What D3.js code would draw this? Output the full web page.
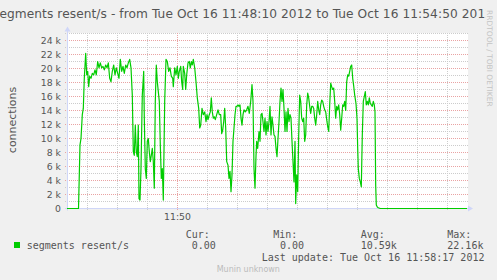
<!DOCTYPE html>
<html>
<head>
<meta charset="utf-8">
<script src="https://cdn.jsdelivr.net/npm/d3@7"></script>
<style>
  body { margin: 0; background: #f0f0f0; }
  svg { display: block; }
</style>
</head>
<body>
<div id="chart"></div>
<script>
// canvas
const width = 497;
const height = 280;
const plot = {left: 67, right: 467, top: 33.5, bottom: 208.5};

// time window of the graph
const startTime = new Date(2012, 9, 16, 11, 48, 10);
const endTime = new Date(2012, 9, 16, 11, 54, 50);

// seconds after 11:48:10
const secs = [
  0, 11.5, 13, 14, 15.3, 16.3, 17.3, 18.7, 19.7, 20.7,
  21.7, 22.7, 24, 25.3, 26.7, 28, 29.3, 30.7, 32, 33.3,
  34.7, 36, 37.3, 38.7, 40, 41.3, 42.7, 44, 45.3, 46.7,
  48, 49.3, 50.7, 52, 53.3, 54.7, 56, 57.3, 58.7, 60,
  61.3, 62.7, 64, 65.3, 66.3, 67.3, 68.3, 69.3, 70.3, 71.3,
  72, 73, 74, 75.3, 76.7, 77.3, 78.3, 79.3, 80.3, 81.3,
  82.3, 83.3, 84.3, 85.3, 86.3, 87.3, 88.3, 89.3, 90.3, 91.3,
  92.3, 93.3, 94.3, 95.3, 96.3, 97.7, 99, 100.3, 101.7, 103,
  104.3, 105.7, 106.3, 107.7, 109, 110.3, 111.3, 112.3, 113.7, 114.7,
  115.7, 116.3, 117.7, 118.7, 119.7, 121, 122.3, 123.3, 124.3, 125.3,
  126.3, 127.7, 129, 130.3, 131.7, 132.7, 133.7, 135, 136.3, 137.7,
  139, 140, 141, 142.3, 143.3, 144.3, 145.3, 146.3, 147.3, 148.3,
  149.7, 151, 152.3, 153.7, 154.7, 155.7, 156.7, 157.7, 158.7, 159.7,
  161, 162, 163, 164, 165, 166, 167, 168, 169, 170,
  171, 172, 173, 174, 175, 176, 177, 178.3, 179.7, 181,
  182.3, 183.7, 185, 186, 187, 188, 189, 189.7, 190.7, 192,
  193, 194, 195, 196, 197, 198, 199, 200, 201, 202,
  203, 204, 205, 206, 207, 208, 209, 210, 211, 212,
  213, 214, 215, 216, 217, 218, 219, 220, 221, 222,
  223, 224, 225, 226, 227, 228, 228.7, 229.7, 230.7, 231.7,
  232.7, 233.7, 234.7, 235.7, 236.7, 237.7, 238.7, 239.7, 240.7, 241.7,
  242.7, 243.7, 244.7, 245.7, 246.7, 247.7, 248.7, 249.7, 250.7, 251.7,
  252.7, 253.7, 254.7, 255.7, 256.7, 257.7, 258.7, 259.7, 260.7, 261.7,
  262.7, 263.7, 264.7, 265.7, 266.7, 267.7, 268.7, 269.7, 270.7, 271.7,
  272.7, 273.7, 274.7, 275.7, 276.7, 277.7, 278.7, 279.7, 280.7, 281.7,
  282.7, 283.7, 284.7, 285.7, 286.7, 287.7, 289, 290, 290.7, 291.3,
  292.3, 293.3, 294.3, 295.3, 296.3, 297.3, 298.3, 299.3, 300.3, 301.3,
  302.3, 303.3, 304.3, 305.3, 306.3, 307.3, 308, 308.7, 309.3, 310.3,
  311.3, 313.3, 400
];

// segments resent per second, in thousands
const resentK = [
  0, 0, 9.1, 10.0, 13.4, 14.3, 18.6, 22.16, 19.1, 19.6,
  17.4, 18.9, 18.6, 19.3, 19.1, 19.8, 19.1, 21.0, 20.1, 20.8,
  20.1, 20.3, 19.8, 20.5, 20.1, 20.8, 18.6, 18.1, 19.6, 20.5,
  19.1, 20.1, 19.3, 18.6, 21.3, 19.6, 20.3, 19.3, 20.5, 20.1,
  20.8, 21.3, 20.1, 16.2, 8.1, 7.6, 11.9, 8.1, 7.4, 11.9,
  1.4, 1.2, 5.7, 16.2, 19.6, 12.9, 5.7, 4.3, 9.6, 10.0,
  8.1, 6.7, 7.6, 8.6, 6.7, 2.9, 15.3, 20.5, 18.1, 16.7,
  15.3, 9.1, 4.3, 5.7, 1.2, 15.3, 21.3, 21.0, 19.6, 20.1,
  18.9, 18.6, 17.4, 20.1, 19.1, 20.3, 18.6, 19.6, 20.3, 18.1,
  17.0, 20.3, 19.3, 17.0, 19.1, 20.8, 21.0, 20.1, 21.0, 20.5,
  21.3, 20.1, 18.1, 15.8, 14.3, 11.5, 11.9, 14.3, 13.4, 13.8,
  12.4, 13.4, 12.7, 13.4, 13.8, 15.8, 13.8, 12.9, 13.1, 12.7,
  13.4, 14.1, 13.4, 13.4, 10.7, 11.2, 12.4, 14.3, 11.5, 6.7,
  6.2, 4.3, 5.3, 2.4, 4.8, 9.6, 11.5, 13.4, 14.6, 14.6,
  14.8, 14.6, 14.8, 12.9, 11.9, 13.4, 14.1, 13.8, 14.1, 14.6,
  13.6, 15.3, 17.7, 15.3, 5.7, 2.9, 7.5, 9.6, 8.6, 11.0,
  9.6, 13.4, 13.6, 12.4, 11.0, 12.9, 10.5, 12.4, 11.0, 12.4,
  14.6, 10.5, 13.1, 11.9, 10.5, 10.3, 8.6, 7.4, 10.0, 12.4,
  15.3, 17.2, 15.3, 17.0, 14.3, 11.0, 13.8, 11.0, 14.3, 12.4,
  13.4, 12.9, 9.6, 6.7, 3.8, 9.6, 0.7, 4.8, 2.4, 10.5,
  16.2, 15.3, 12.9, 12.4, 12.9, 9.6, 10.5, 14.8, 16.5, 15.8,
  14.6, 13.6, 14.6, 14.6, 14.3, 12.9, 11.9, 13.4, 15.3, 14.1,
  13.4, 14.8, 15.5, 15.3, 14.6, 14.1, 13.8, 12.7, 11.7, 11.0,
  14.8, 17.9, 17.4, 17.0, 17.2, 15.3, 12.9, 14.6, 14.1, 14.8,
  13.4, 11.2, 12.9, 14.8, 14.6, 15.3, 14.0, 18.1, 19.1, 18.9,
  19.6, 20.3, 20.5, 18.6, 17.5, 16.2, 15.0, 12.9, 8.6, 5.7,
  4.3, 3.8, 3.1, 10.5, 15.3, 16.0, 16.7, 14.8, 15.3, 14.8,
  15.8, 15.0, 14.8, 14.6, 15.3, 14.8, 13.8, 3.3, 0.5, 0.2,
  0.1, 0, 0
];

const yLabelValues = [0, 2, 4, 6, 8, 10, 12, 14, 16, 18, 20, 22, 24];
const statLabels = ["Cur:", "Min:", "Avg:", "Max:"];
const statValues = ["0.00", "0.00", "10.59k", "22.16k"];

const title = "segments resent/s - from Tue Oct 16 11:48:10 2012 to Tue Oct 16 11:54:50 2012";
const seriesName = "segments resent/s";
const yTitle = "connections";
const lastUpdate = "Last update: Tue Oct 16 11:58:17 2012";

const green = "#00cc00";
const textColor = "#555";
const axisColor = "#cfd6f8";

const data = secs.map((s, i) => ({t: new Date(startTime.getTime() + s * 1000), v: resentK[i]}));

// scales
const x = d3.scaleTime().domain([startTime, endTime]).range([plot.left, plot.right]);
const y = d3.scaleLinear().domain([0, 25]).range([plot.bottom, plot.top]);

const svg = d3.select("#chart").append("svg")
    .attr("width", width)
    .attr("height", height)
    .style("font-family", "'DejaVu Sans', sans-serif");

svg.append("rect").attr("width", width).attr("height", height).attr("fill", "#f0f0f0");

// white canvas
svg.append("rect")
    .attr("x", plot.left).attr("y", plot.top - 0.5)
    .attr("width", plot.right - plot.left + 1).attr("height", plot.bottom - plot.top + 0.5)
    .attr("fill", "#fff");

// horizontal grid, minor every 1k, major every 2k
const hGrid = svg.append("g");
d3.range(1, 26).forEach(k => {
  const major = k % 2 === 0 && k <= 24;
  const yy = Math.round(y(k) - 0.5) + 0.5;
  hGrid.append("line")
      .attr("x1", plot.left - 2).attr("x2", plot.right + 1)
      .attr("y1", yy).attr("y2", yy)
      .attr("stroke", major ? "#e9a3a3" : "#cccccc")
      .attr("stroke-dasharray", "1,1");
});

// vertical grid, every 30 s, 11:50 in red
const vGrid = svg.append("g");
x.ticks(d3.timeSecond.every(30)).forEach(d => {
  const major = d.getSeconds() === 0 && d.getMinutes() % 5 === 0;
  const xx = Math.round(x(d)) + 0.5;
  vGrid.append("line")
      .attr("x1", xx).attr("x2", xx)
      .attr("y1", plot.top - 0.5).attr("y2", plot.bottom + 2)
      .attr("stroke", major ? "#e9a3a3" : "#cccccc")
      .attr("stroke-dasharray", "1,1");
});

// axes with arrows
svg.append("line")
    .attr("x1", plot.left - 2).attr("x2", plot.right + 3)
    .attr("y1", plot.bottom).attr("y2", plot.bottom)
    .attr("stroke", axisColor);
svg.append("line")
    .attr("x1", plot.left + 0.5).attr("x2", plot.left + 0.5)
    .attr("y1", plot.bottom + 2).attr("y2", plot.top - 4)
    .attr("stroke", axisColor);
svg.append("path")
    .attr("d", `M${plot.right + 1},${plot.bottom - 3} L${plot.right + 6},${plot.bottom} L${plot.right + 1},${plot.bottom + 3} Z`)
    .attr("fill", axisColor);
svg.append("path")
    .attr("d", `M${plot.left - 2.5},${plot.top - 2} L${plot.left + 0.5},${plot.top - 7} L${plot.left + 3.5},${plot.top - 2} Z`)
    .attr("fill", axisColor);

// y labels
svg.append("g").selectAll("text")
    .data(yLabelValues)
    .enter().append("text")
    .attr("x", 61)
    .attr("y", d => y(d) + 3.5)
    .attr("text-anchor", "end")
    .attr("font-size", 9.3)
    .attr("fill", textColor)
    .text(d => d === 0 ? "0" : d + " k");

// x label at 11:50
svg.append("g").selectAll("text")
    .data(x.ticks(d3.timeMinute.every(5)))
    .enter().append("text")
    .attr("x", d => x(d) + 0.5)
    .attr("y", 219.5)
    .attr("text-anchor", "middle")
    .attr("font-size", 9.3)
    .attr("fill", textColor)
    .text(d3.timeFormat("%H:%M"));

// series line
const line = d3.line()
    .x(d => x(d.t))
    .y(d => y(d.v));

svg.append("path")
    .datum(data)
    .attr("d", line)
    .attr("fill", "none")
    .attr("stroke", green)
    .attr("stroke-width", 1.2)
    .attr("stroke-linejoin", "round");

// title: wider than the picture in the original, so both ends get cut
svg.append("clipPath").attr("id", "titleclip")
    .append("rect").attr("x", 0).attr("y", 0).attr("width", 485.5).attr("height", 30);
svg.append("text")
    .attr("clip-path", "url(#titleclip)")
    .attr("x", -7)
    .attr("y", 18)
    .attr("font-size", 12.2)
    .attr("textLength", 500)
    .attr("lengthAdjust", "spacing")
    .attr("fill", textColor)
    .text(title);

// y axis title
svg.append("text")
    .attr("transform", "translate(15.5,120) rotate(-90)")
    .attr("text-anchor", "middle")
    .attr("font-size", 11)
    .attr("fill", textColor)
    .text(yTitle);

// watermark on the right
svg.append("text")
    .attr("transform", "translate(486.5,10) rotate(90)")
    .attr("font-size", 7.5)
    .attr("fill", "#c4c4c4")
    .text("RRDTOOL / TOBI OETIKER");

// legend
const mono = "'DejaVu Sans Mono', monospace";
svg.append("rect")
    .attr("x", 14).attr("y", 242)
    .attr("width", 6).attr("height", 6)
    .attr("fill", green);
svg.append("text")
    .attr("x", 26.7).attr("y", 249)
    .attr("font-family", mono).attr("font-size", 10)
    .attr("fill", textColor)
    .text(seriesName);

const statX = [185.7, 273.3, 360.7, 447.3];
const valueX = [191.7, 280, 360.7, 447.3];
const legend = svg.append("g")
    .attr("font-family", mono)
    .attr("font-size", 10)
    .attr("fill", textColor);
statLabels.forEach((s, i) => {
  legend.append("text").attr("x", statX[i]).attr("y", 237.5).text(s);
  legend.append("text").attr("x", valueX[i]).attr("y", 249.3).text(statValues[i]);
});
legend.append("text").attr("x", 261.7).attr("y", 261).text(lastUpdate);

svg.append("text")
    .attr("x", 216.7).attr("y", 271.5)
    .attr("font-size", 8)
    .attr("fill", "#bbbbbb")
    .text("Munin unknown");
</script>
</body>
</html>
